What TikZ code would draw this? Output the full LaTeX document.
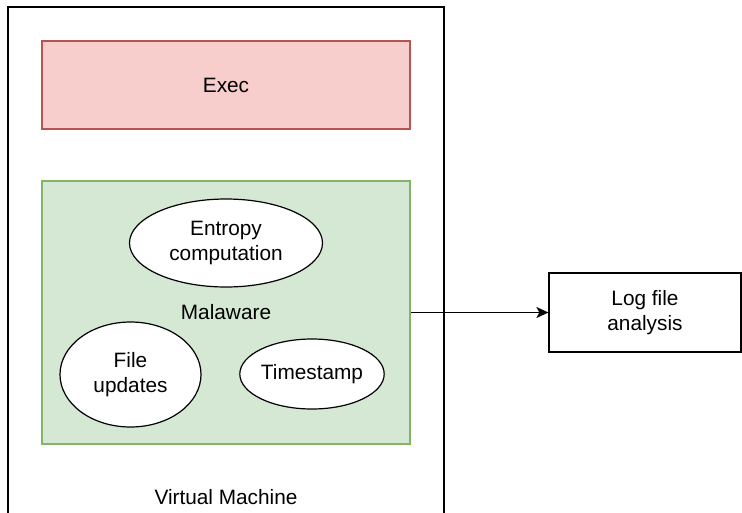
\documentclass[tikz,border=0pt]{standalone}
\usepackage{fontspec}
\setmainfont{Liberation Sans}
\usetikzlibrary{shapes.geometric,arrows.meta}
\definecolor{execfill}{HTML}{F8CECC}
\definecolor{execline}{HTML}{B85450}
\definecolor{malfill}{HTML}{D5E8D4}
\definecolor{malline}{HTML}{82B366}
\tikzset{
  txt/.style={font=\fontsize{20.8}{25}\selectfont, align=center},
  box/.style={rectangle, draw, line width=1.2pt, inner sep=0pt, txt},
  blob/.style={ellipse, draw, fill=white, line width=1.2pt, inner sep=0pt, txt},
  link/.style={line width=1.3pt, -{Stealth[length=12pt,width=11pt,inset=3pt]}}
}
\begin{document}
\begin{tikzpicture}[x=1pt,y=-1pt]
\useasboundingbox (0,0) rectangle (742,512);
\clip (0,0) rectangle (742,512);
% outer virtual machine frame, running past the lower edge
\node[box, minimum width=436pt, minimum height=523pt] (vm) at (226,268.5) {};
\node[txt] (vmlabel) at (226,497) {Virtual Machine};
% execution stage
\node[box, draw=execline, fill=execfill, minimum width=368pt, minimum height=88pt] (exec) at (226,85) {Exec};
% malware stage with its behaviours
\node[box, draw=malline, fill=malfill, minimum width=368pt, minimum height=263pt] (mal) at (226,312.5) {Malaware};
\node[blob, minimum width=193pt, minimum height=88pt] (entropy) at (226,243) {Entropy\\computation};
\node[blob, minimum width=141pt, minimum height=105pt] (files) at (130.5,374.5) {File\\updates};
\node[blob, minimum width=140pt, minimum height=70pt] (stamp) at (312,374) {Timestamp};
% downstream analysis
\node[box, minimum width=192pt, minimum height=79pt] (log) at (645,312.5) {Log file\\analysis};
\draw[link] (mal.east) -- (log.west);
\end{tikzpicture}
\end{document}
